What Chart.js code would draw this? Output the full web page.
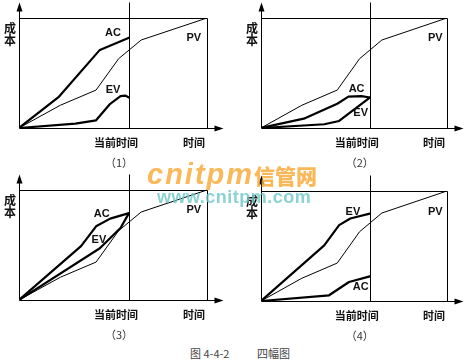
<!DOCTYPE html>
<html><head><meta charset="utf-8">
<script src="https://cdn.jsdelivr.net/npm/chart.js@4"></script>
<style>
html,body{margin:0;padding:0;background:#fff;width:469px;height:362px;overflow:hidden;position:relative;}
canvas{position:absolute;}
.wm1{position:absolute;left:147px;top:158px;font:italic 900 29px "Liberation Sans",Arial,sans-serif;color:rgba(248,172,60,0.85);letter-spacing:2px;z-index:5;white-space:nowrap;}
.wm1 span{font-style:normal;font-family:"Noto Sans CJK SC";font-weight:900;font-size:21px;letter-spacing:0;}
.wm2{position:absolute;left:157px;top:187px;font:bold 18px "Liberation Sans",Arial,sans-serif;color:rgba(110,200,200,0.8);z-index:5;white-space:nowrap;letter-spacing:0.5px;}
.cap{position:absolute;top:345px;font:11px "Noto Sans CJK SC",sans-serif;color:#444;white-space:nowrap;}
</style></head><body>
<canvas id="c1" width="234" height="172" style="left:0;top:0"></canvas>
<canvas id="c2" width="232" height="172" style="left:242px;top:0"></canvas>
<canvas id="c3" width="234" height="172" style="left:0;top:172px"></canvas>
<canvas id="c4" width="232" height="172" style="left:242px;top:173px"></canvas>
<div class="wm1">cnitpm<span>信管网</span></div>
<div class="wm2">www.cnitpm.com</div>
<div class="cap" style="left:190px">图 4-4-2</div>
<div class="cap" style="left:257px">四幅图</div>
<script>
// ---- data (time 0-100, cost 0-100) ----
const currentTime = 58.5;
const pvX = [0, 22, 41, 53, 65, 100];
const pvY = [0, 20.7, 34.5, 63, 80, 100];

const ac1X = [0, 21, 43, 58.5];
const ac1Y = [0, 28, 71, 82];
const ev1X = [0, 30, 41, 48.5, 54, 56.5, 58.5];
const ev1Y = [0, 4, 7, 22, 29, 29.5, 27.7];

const ac2X = [0, 23, 41, 47, 54, 58.5];
const ac2Y = [0, 8.5, 22, 28.5, 29, 27.7];
const ev2X = [0, 34, 42, 58.5];
const ev2Y = [0, 3.4, 6.4, 27.7];

const ac3X = [0, 33, 41, 48.5, 58.5];
const ac3Y = [0, 49, 67, 74, 79];
const ev3X = [0, 43, 54, 58.5];
const ev3Y = [0, 47, 65.5, 79];

const ev4X = [0, 34, 42, 48, 58.5];
const ev4Y = [0, 50.6, 69, 75, 79.4];
const ac4X = [0, 36.6, 47.3, 58.5];
const ac4Y = [0, 5.2, 17.3, 22.4];

const panelTitles = ['（1）', '（2）', '（3）', '（4）'];
const yAxisLabel = ['成', '本'];
const xTickLabels = ['当前时间', '时间'];

function pts(xs, ys){ return xs.map((x,i)=>({x:x, y:ys[i]})); }

const panelPlugin = {
  id: 'panel',
  beforeDatasetsDraw(chart, args, opts){
    const ctx = chart.ctx, a = chart.chartArea;
    const xs = chart.scales.x;
    const cx = Math.round(xs.getPixelForValue(currentTime)) + 0.5;
    const L = Math.round(a.left)+0.5, R = Math.round(a.right)+0.5, T = Math.round(a.top)+0.5, B = Math.round(a.bottom)+0.5;
    ctx.save();
    ctx.strokeStyle = '#000'; ctx.lineWidth = 1;
    ctx.beginPath();
    ctx.moveTo(L, B); ctx.lineTo(L, T - 10);
    ctx.moveTo(L, B); ctx.lineTo(R + 10, B);
    ctx.moveTo(L, T); ctx.lineTo(R, T); ctx.lineTo(R, B);
    ctx.moveTo(cx, B); ctx.lineTo(cx, T - 16);
    ctx.stroke();
    ctx.fillStyle = '#000';
    ctx.beginPath();
    ctx.moveTo(L, T - 16); ctx.lineTo(L - 3, T - 7); ctx.lineTo(L + 3, T - 7); ctx.closePath(); ctx.fill();
    ctx.beginPath();
    ctx.moveTo(R + 16, B); ctx.lineTo(R + 7, B - 3); ctx.lineTo(R + 7, B + 3); ctx.closePath(); ctx.fill();
    ctx.restore();
  },
  afterDatasetsDraw(chart, args, opts){
    const ctx = chart.ctx, a = chart.chartArea;
    const xs = chart.scales.x, ys = chart.scales.y;
    const cx = xs.getPixelForValue(currentTime);
    ctx.save();
    ctx.fillStyle = '#111';
    ctx.textAlign = 'center'; ctx.textBaseline = 'middle';
    ctx.font = 'bold 12px "Noto Sans CJK SC"';
    ctx.fillText(yAxisLabel[0], a.left - 9, a.top + 10);
    ctx.fillText(yAxisLabel[1], a.left - 9, a.top + 22);
    ctx.font = 'bold 11px "Noto Sans CJK SC"';
    ctx.fillText(xTickLabels[0], cx - 13, a.bottom + 15);
    ctx.fillText(xTickLabels[1], a.right - 13, a.bottom + 15);
    ctx.font = 'bold 11px "Liberation Sans", Arial';
    (opts.names || []).forEach(n => {
      ctx.fillText(n.t, xs.getPixelForValue(n.x), ys.getPixelForValue(n.y));
    });
    ctx.font = '11px "Noto Sans CJK SC"';
    ctx.fillStyle = '#333';
    ctx.fillText(opts.title, cx - 10, a.bottom + 35);
    ctx.restore();
  }
};

function makePanel(id, series, names, title){
  const datasets = [{label:'PV', data: pts(pvX, pvY), borderColor:'#000', borderWidth:1}]
    .concat(series.map(s => ({label:s.label, data: pts(s.x, s.y), borderColor:'#000', borderWidth:2.2})));
  datasets.forEach(d => { d.pointRadius = 0; d.tension = 0; d.fill = false; d.borderJoinStyle='round'; d.borderCapStyle='round'; });
  new Chart(document.getElementById(id), {
    type: 'line',
    data: { datasets },
    options: {
      responsive: false, animation: false, devicePixelRatio: 1,
      layout: { padding: { left: 19, top: 18, right: 27, bottom: 44 } },
      scales: {
        x: { type: 'linear', min: 0, max: 100, display: false },
        y: { type: 'linear', min: 0, max: 100, display: false }
      },
      plugins: { legend: { display: false }, tooltip: { enabled: false }, panel: { names, title } }
    },
    plugins: [panelPlugin]
  });
}

makePanel('c1', [{label:'AC', x:ac1X, y:ac1Y}, {label:'EV', x:ev1X, y:ev1Y}],
  [{t:'AC', x:50, y:86.4}, {t:'EV', x:50, y:34.5}, {t:'PV', x:93, y:82}], panelTitles[0]);
makePanel('c2', [{label:'AC', x:ac2X, y:ac2Y}, {label:'EV', x:ev2X, y:ev2Y}],
  [{t:'AC', x:51.4, y:35.5}, {t:'EV', x:53.6, y:13.6}, {t:'PV', x:93.7, y:81.8}], panelTitles[1]);
makePanel('c3', [{label:'AC', x:ac3X, y:ac3Y}, {label:'EV', x:ev3X, y:ev3Y}],
  [{t:'AC', x:44, y:78.4}, {t:'EV', x:42.5, y:54.3}, {t:'PV', x:93, y:81.4}], panelTitles[2]);
makePanel('c4', [{label:'EV', x:ev4X, y:ev4Y}, {label:'AC', x:ac4X, y:ac4Y}],
  [{t:'EV', x:49.4, y:81}, {t:'AC', x:53.6, y:12.7}, {t:'PV', x:93.7, y:81}], panelTitles[3]);
</script>
</body></html>
